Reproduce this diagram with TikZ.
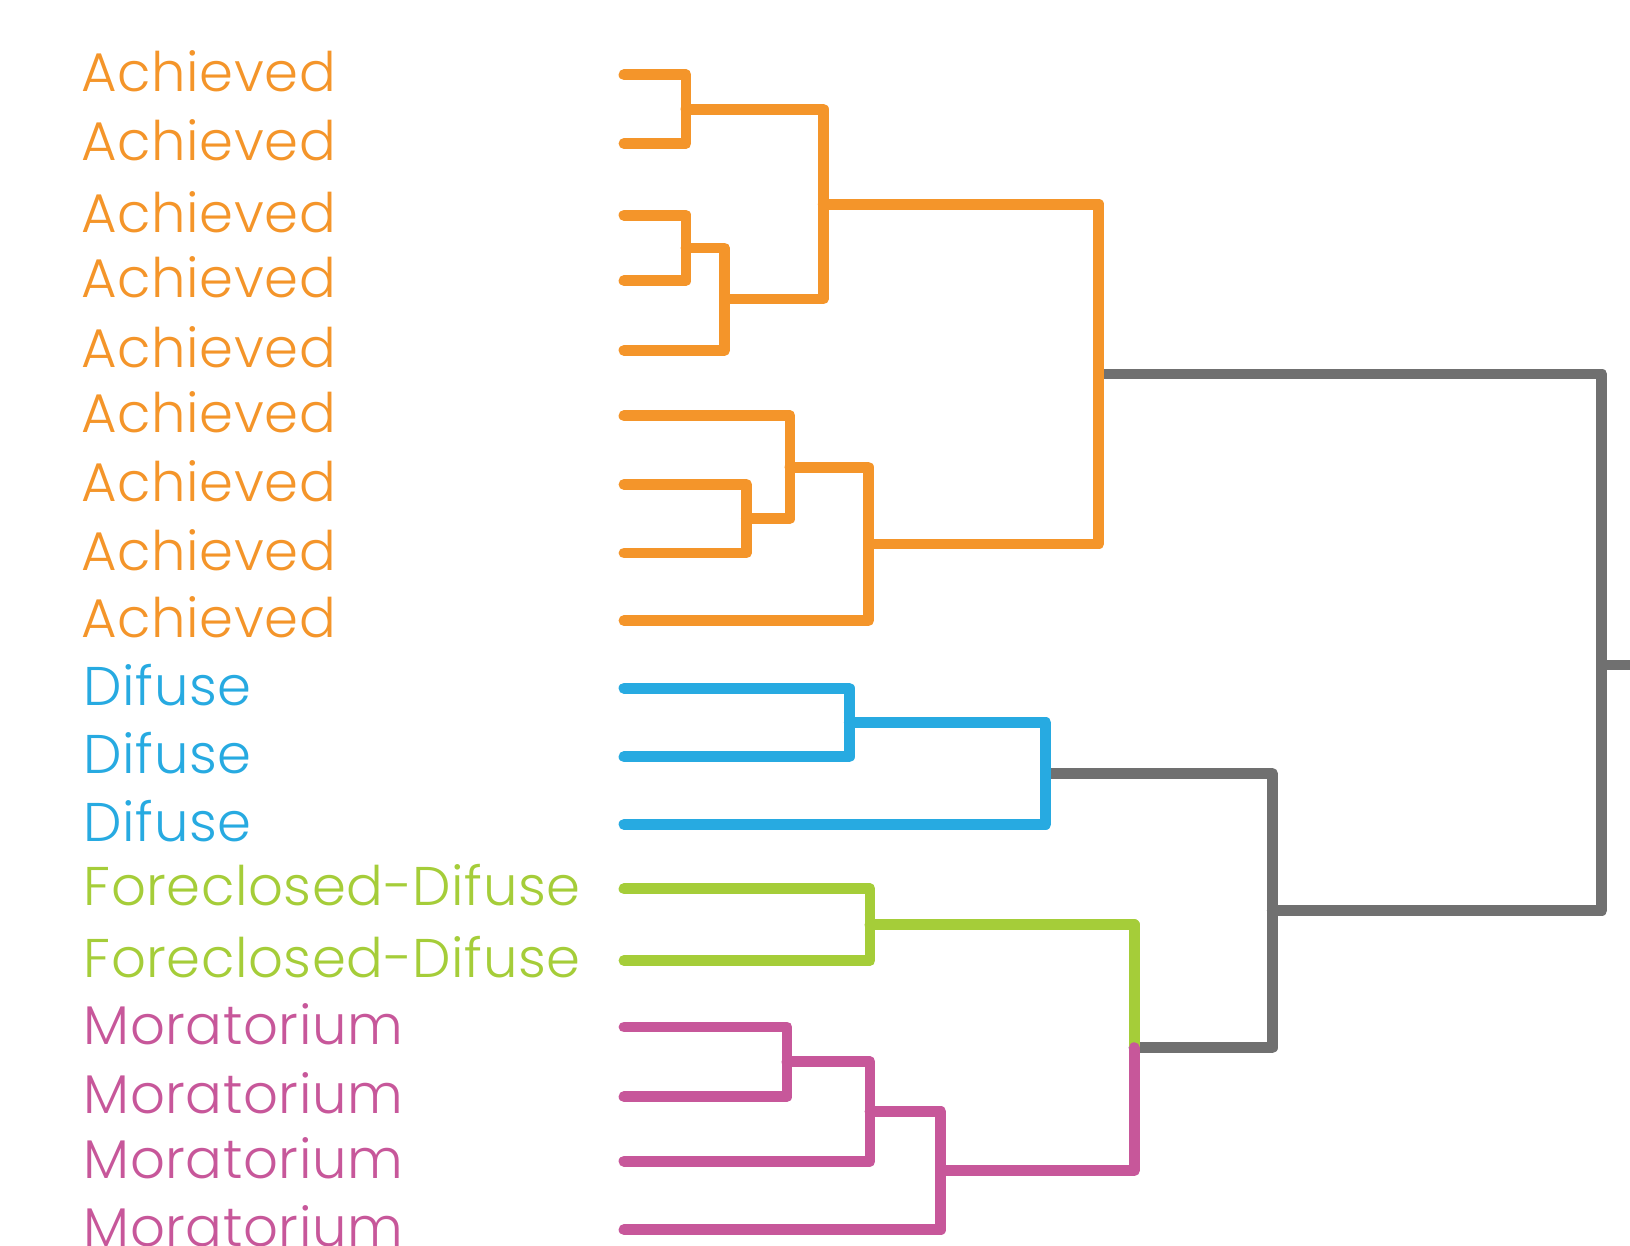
\documentclass[tikz,border=0pt]{standalone}
\usepackage{fontspec}
\setmainfont{Poppins}[UprightFont=* Light, LetterSpace=1.0]
\definecolor{cOr}{HTML}{F4952A}
\definecolor{cBl}{HTML}{27AAE1}
\definecolor{cGr}{HTML}{A5CD39}
\definecolor{cPk}{HTML}{C7579A}
\definecolor{cGy}{HTML}{707070}
\tikzset{
  br/.style={line width=3.1pt, line cap=round, line join=round},
  lab/.style={anchor=base west, inner sep=0pt, font=\fontsize{15.5pt}{18pt}\selectfont}
}
\begin{document}
\begin{tikzpicture}[x=0.01cm, y=-0.01cm]
\useasboundingbox (0,0) rectangle (1630,1245);
% leaves
\coordinate (l1) at (624,74.8);
\coordinate (l2) at (624,143.5);
\coordinate (l3) at (624,215.2);
\coordinate (l4) at (624,280.7);
\coordinate (l5) at (624,350.3);
\coordinate (l6) at (624,415.8);
\coordinate (l7) at (624,484.4);
\coordinate (l8) at (624,553);
\coordinate (l9) at (624,620.6);
\coordinate (l10) at (624,688.1);
\coordinate (l11) at (624,756.8);
\coordinate (l12) at (624,824.3);
\coordinate (l13) at (624,888.8);
\coordinate (l14) at (624,960.5);
\coordinate (l15) at (624,1027);
\coordinate (l16) at (624,1096.7);
\coordinate (l17) at (624,1161.1);
\coordinate (l18) at (624,1229.7);
% merges
\coordinate (O1) at (686,109.2);
\coordinate (O2) at (686,248);
\coordinate (O3) at (724.5,299);
\coordinate (O4) at (823.3,204.1);
\coordinate (O5) at (746.4,518.7);
\coordinate (O6) at (790,467.3);
\coordinate (O7) at (868.5,544);
\coordinate (O8) at (1098.8,374);
\coordinate (B1) at (849.3,722.5);
\coordinate (B2) at (1045.7,773.4);
\coordinate (G1) at (870,924.7);
\coordinate (P1) at (787,1061.9);
\coordinate (P2) at (870,1111.5);
\coordinate (P3) at (940.8,1170.6);
\coordinate (GP) at (1134.1,1047.7);
\coordinate (X1) at (1272.3,910.5);
\coordinate (R) at (1601.9,665);
\coordinate (Rend) at (1660,665);
% labels
\foreach \i/\y in {1/74.8,2/143.5,3/215.2,4/280.7,5/350.3,6/415.8,7/484.4,8/553,9/620.6}
  \node[lab, text=cOr] (t\i) at (81,\y+17) {Achieved};
\foreach \i/\y in {10/688.1,11/756.8,12/824.3}
  \node[lab, text=cBl] (t\i) at (83,\y+17) {Difuse};
\foreach \i/\y in {13/888.8,14/960.5}
  \node[lab, text=cGr] (t\i) at (83,\y+17) {Foreclosed-Difuse};
\foreach \i/\y in {15/1027,16/1096.7,17/1161.1,18/1229.7}
  \node[lab, text=cPk] (t\i) at (83,\y+17) {Moratorium};
% gray
\draw[br, cGy] (O8) -| (R);
\draw[br, cGy] (X1) -| (R);
\draw[br, cGy] (R) -- (Rend);
\draw[br, cGy] (B2) -| (X1);
\draw[br, cGy] (GP) -| (X1);
% orange
\draw[br, cOr] (l1) -| (O1); \draw[br, cOr] (l2) -| (O1);
\draw[br, cOr] (l3) -| (O2); \draw[br, cOr] (l4) -| (O2);
\draw[br, cOr] (O2) -| (O3); \draw[br, cOr] (l5) -| (O3);
\draw[br, cOr] (O1) -| (O4); \draw[br, cOr] (O3) -| (O4);
\draw[br, cOr] (l7) -| (O5); \draw[br, cOr] (l8) -| (O5);
\draw[br, cOr] (l6) -| (O6); \draw[br, cOr] (O5) -| (O6);
\draw[br, cOr] (O6) -| (O7); \draw[br, cOr] (l9) -| (O7);
\draw[br, cOr] (O4) -| (O8); \draw[br, cOr] (O7) -| (O8);
% blue
\draw[br, cBl] (l10) -| (B1); \draw[br, cBl] (l11) -| (B1);
\draw[br, cBl] (B1) -| (B2); \draw[br, cBl] (l12) -| (B2);
% green
\draw[br, cGr] (l13) -| (G1); \draw[br, cGr] (l14) -| (G1);
\draw[br, cGr] (G1) -| (GP);
% pink
\draw[br, cPk] (l15) -| (P1); \draw[br, cPk] (l16) -| (P1);
\draw[br, cPk] (P1) -| (P2); \draw[br, cPk] (l17) -| (P2);
\draw[br, cPk] (P2) -| (P3); \draw[br, cPk] (l18) -| (P3);
\draw[br, cPk] (P3) -| (GP);
\end{tikzpicture}
\end{document}
